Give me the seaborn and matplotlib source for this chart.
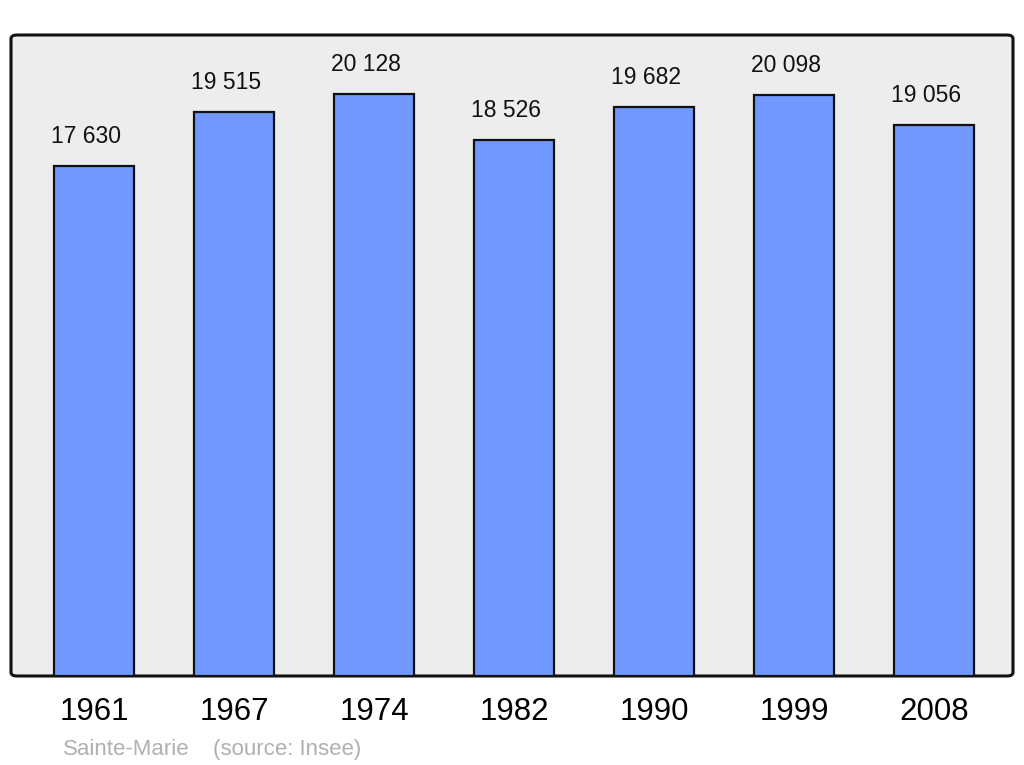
import matplotlib
matplotlib.use("Agg")
import matplotlib.pyplot as plt
import seaborn as sns
import pandas as pd
from matplotlib.patches import FancyBboxPatch

years = ["1961", "1967", "1974", "1982", "1990", "1999", "2008"]
population = [17630, 19515, 20128, 18526, 19682, 20098, 19056]
value_labels = ["17 630", "19 515", "20 128", "18 526", "19 682", "20 098", "19 056"]

sns.set_theme(style="white")
plt.rcParams['font.family'] = ['Liberation Sans', 'DejaVu Sans']

df = pd.DataFrame({"year": years, "population": population})

fig = plt.figure(figsize=(10.24, 7.65), dpi=100)
ax = fig.add_axes([11/1024, (765-676)/765, (1013-11)/1024, (676-35)/765])
ax.set_facecolor("none")

# rounded background frame
bg = FancyBboxPatch((0, 0), 1, 1, boxstyle="round,pad=0,rounding_size=0.006",
                    transform=ax.transAxes, facecolor="#EDEDED", edgecolor="#111111",
                    linewidth=2.2, zorder=0, clip_on=False)
ax.add_patch(bg)

sns.barplot(data=df, x="year", y="population", color="#7098FF", width=80/140,
            edgecolor="#111111", linewidth=1.6, saturation=1, ax=ax, zorder=2)

ax.set_xlim(-83/140, 6 + 79/140)
ax.set_ylim(0, 22170)
for s in ax.spines.values():
    s.set_visible(False)
ax.set_yticks([])
ax.set_xlabel("")
ax.set_ylabel("")
ax.tick_params(axis="x", length=0, pad=15, labelsize=22.5, labelcolor="black")

for i, (v, lab) in enumerate(zip(population, value_labels)):
    ax.annotate(lab, (i, v), xytext=(-8, 18), textcoords="offset pixels",
                ha="center", va="bottom", fontsize=16.5, color="#111111")

fig.text(63/1024, 1 - 755/765, "Sainte-Marie", fontsize=16, color="#B0B0B0",
         ha="left", va="baseline")
fig.text(213/1024, 1 - 755/765, "(source: Insee)", fontsize=16, color="#B0B0B0",
         ha="left", va="baseline")

fig.savefig("out.png", dpi=100, facecolor="white")
